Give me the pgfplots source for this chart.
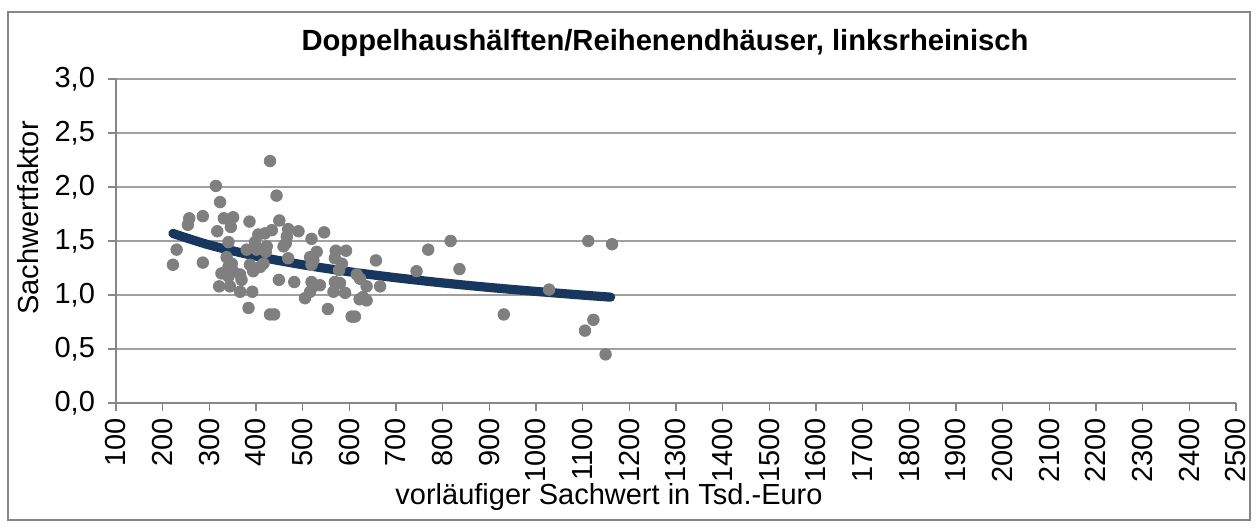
\documentclass[border=0pt]{standalone}
\usepackage{pgfplots}
\pgfplotsset{compat=1.18}
\usepackage{fontspec}
\setmainfont{Liberation Sans}
\definecolor{dotgray}{HTML}{7F7F7F}
\definecolor{navy}{HTML}{17375E}
\definecolor{gridgray}{HTML}{A0A0A0}
\definecolor{axisgray}{HTML}{868686}
\begin{document}
\begin{tikzpicture}
\useasboundingbox (-58pt,-62.5pt) rectangle (572pt,201.5pt);
\draw[axisgray, line width=0.6pt] (-54pt,-58.5pt) rectangle (567pt,195.5pt);
\begin{axis}[
  at={(0,0)}, anchor=south west,
  scale only axis, width=560pt, height=162pt,
  xmin=100, xmax=2500, ymin=0, ymax=3,
  axis lines*=left,
  axis line style={axisgray, line width=0.6pt, -},
  xtick={100,200,...,2500},
  ytick={0,0.5,...,3},
  ymajorgrids,
  grid style={gridgray, line width=0.6pt},
  tick style={axisgray, line width=0.6pt},
  tick align=outside,
  major tick length=4pt,
  font=\fontsize{14.5}{16}\selectfont,
  xticklabel style={rotate=90, anchor=east, font=\fontsize{14.5}{16}\selectfont},
  yticklabel style={font=\fontsize{14.5}{16}\selectfont, xshift=-3pt},
  /pgf/number format/assume math mode=true,
  scaled x ticks=false,
  x tick label style={/pgf/number format/.cd, fixed, 1000 sep={}},
  y tick label style={/pgf/number format/.cd, fixed, fixed zerofill, precision=1, use comma},
  clip=false,
]
\addplot[only marks, mark=*, mark size=2.9pt, mark options={fill=dotgray, draw=dotgray}] coordinates {
(222,1.28) (230,1.42) (257,1.71) (254,1.65) (286,1.73) (286,1.30)
(430,2.24) (314,2.01) (444,1.92) (323,1.86) (331,1.71) (351,1.72)
(346,1.63) (386,1.68) (450,1.69) (317,1.59) (469,1.61) (491,1.59)
(546,1.58) (519,1.52) (405,1.56) (434,1.60) (419,1.57) (341,1.49)
(466,1.54) (464,1.48) (398,1.49) (423,1.45) (459,1.45) (380,1.42)
(401,1.42) (421,1.40) (530,1.40) (516,1.35) (571,1.41) (593,1.41)
(657,1.32) (337,1.35) (348,1.29) (341,1.26) (351,1.22) (387,1.28)
(394,1.22) (409,1.26) (416,1.29) (469,1.34) (519,1.28) (523,1.32)
(569,1.34) (584,1.29) (578,1.23) (326,1.20) (341,1.17) (366,1.19)
(369,1.14) (449,1.14) (482,1.12) (519,1.12) (523,1.08) (537,1.09)
(569,1.12) (580,1.11) (616,1.19) (623,1.15) (637,1.08) (666,1.08)
(744,1.22) (321,1.08) (344,1.08) (366,1.03) (392,1.03) (505,0.97)
(516,1.03) (566,1.03) (591,1.02) (629,0.98) (637,0.95) (622,0.96)
(384,0.88) (430,0.82) (439,0.82) (554,0.87) (612,0.80) (605,0.80)
(769,1.42) (817,1.50) (836,1.24) (931,0.82) (1028,1.05) (1112,1.50)
(1163,1.47) (1105,0.67) (1123,0.77) (1149,0.45)
};
\addplot[navy, line width=4.6pt, line cap=round, smooth] coordinates {
(222,1.570) (300,1.463) (400,1.360) (500,1.280) (600,1.215) (700,1.160)
(800,1.112) (900,1.070) (1000,1.033) (1100,0.999) (1160,0.980)
};
\end{axis}
\node[font=\bfseries\fontsize{14.6}{17}\selectfont] at (274.5pt,180pt) {Doppelhaushälften/Reihenendhäuser, linksrheinisch};
\node[rotate=90, font=\fontsize{14.5}{16}\selectfont] at (-44pt,92.5pt) {Sachwertfaktor};
\node[font=\fontsize{14.5}{16}\selectfont] at (246.5pt,-47pt) {vorläufiger Sachwert in Tsd.-Euro};
\end{tikzpicture}
\end{document}
